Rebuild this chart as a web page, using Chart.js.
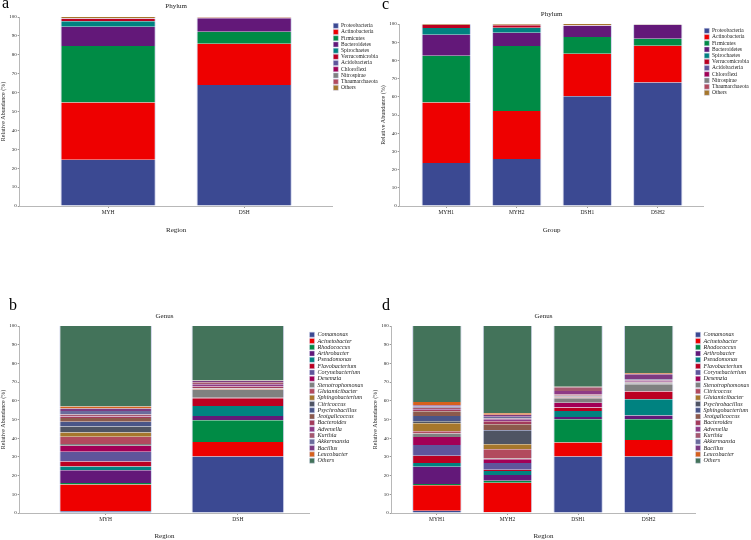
<!DOCTYPE html>
<html>
<head>
<meta charset="utf-8">
<script src="https://cdn.jsdelivr.net/npm/chart.js@4"></script>
<style>
    body { margin: 0; background: #fff; }
    #page { position: relative; width: 751px; height: 540px; overflow: hidden; background: #fff; }
    .panel { position: absolute; }
    .tag { position: absolute; font-family: 'Liberation Serif', serif; font-size: 16px; line-height: 1; color: #000; }
</style>
</head>
<body>
<div id="page">
    <canvas id="chart-a" class="panel" width="388" height="240" style="left:0;top:0"></canvas>
    <canvas id="chart-c" class="panel" width="387" height="240" style="left:372px;top:0"></canvas>
    <canvas id="chart-b" class="panel" width="373" height="240" style="left:0;top:300px"></canvas>
    <canvas id="chart-d" class="panel" width="387" height="240" style="left:372px;top:300px"></canvas>
    <div class="tag" style="left:2px;top:-5px">a</div>
    <div class="tag" style="left:382px;top:-4px">c</div>
    <div class="tag" style="left:9px;top:297px">b</div>
    <div class="tag" style="left:382px;top:297px">d</div>
</div>
<script>
// Relative abundance (%) of phyla and genera

const regionLabels = ['MYH', 'DSH'];
const groupLabels = ['MYH1', 'MYH2', 'DSH1', 'DSH2'];

const phylumNames = ['Proteobacteria', 'Actinobacteria', 'Firmicutes', 'Bacteroidetes', 'Spirochaetes',
    'Verrucomicrobia', 'Acidobacteria', 'Chloroflexi', 'Nitrospirae', 'Thaumarchaeota', 'Others'];

// one array per bar, in phylumNames order
const phylumMYH = [24.5, 30.3, 29.8, 10.3, 2.8, 1.4, 0.1, 0.1, 0.1, 0.1, 0.5];
const phylumDSH = [64.0, 21.8, 6.4, 7.1, 0.1, 0.2, 0.05, 0.05, 0.05, 0.05, 0.2];
const phylumMYH1 = [23.6, 33.2, 25.8, 11.5, 3.7, 1.6, 0.1, 0.05, 0.05, 0.05, 0.35];
const phylumMYH2 = [25.8, 26.4, 35.7, 7.3, 2.8, 1.3, 0.1, 0.05, 0.05, 0.05, 0.45];
const phylumDSH1 = [60.3, 23.4, 9.2, 6.1, 0.1, 0.1, 0.05, 0.05, 0.05, 0.05, 0.6];
const phylumDSH2 = [67.9, 20.2, 3.8, 7.6, 0.05, 0.05, 0.05, 0.05, 0.05, 0.05, 0.2];

const genusNamesRegion = ['Comamonas', 'Acinetobacter', 'Rhodococcus', 'Arthrobacter', 'Pseudomonas',
    'Flavobacterium', 'Corynebacterium', 'Desemzia', 'Stenotrophomonas', 'Glutamicibacter',
    'Sphingobacterium', 'Citricoccus', 'Psychrobacillus', 'Jeotgalicoccus', 'Bacteroides',
    'Advenella', 'Kurthia', 'Akkermansia', 'Bacillus', 'Leucobacter', 'Others'];
const genusMYH = [1.0, 14.2, 0.9, 6.8, 1.9, 2.7, 5.3, 3.2, 0.9, 3.9, 2.3, 3.1, 2.6, 2.0, 0.5, 0.3, 1.1, 1.8, 1.4, 1.1, 43.0];
const genusDSH = [30.2, 7.8, 11.6, 2.3, 5.3, 4.2, 0.1, 0.1, 4.2, 0.3, 0.4, 0.1, 0.1, 0.2, 0.8, 1.2, 1.0, 0.2, 0.6, 0.2, 29.1];

const genusNamesGroup = ['Comamonas', 'Acinetobacter', 'Rhodococcus', 'Arthrobacter', 'Pseudomonas',
    'Flavobacterium', 'Corynebacterium', 'Desemzia', 'Stenotrophomonas', 'Citricoccus',
    'Glutamicibacter', 'Psychrobacillus', 'Sphingobacterium', 'Jeotgalicoccus', 'Bacteroides',
    'Advenella', 'Kurthia', 'Akkermansia', 'Bacillus', 'Leucobacter', 'Others'];
const genusMYH1 = [1.2, 13.7, 0.6, 9.2, 2.0, 3.9, 5.7, 4.4, 1.8, 1.2, 4.3, 1.0, 2.9, 2.5, 0.7, 0.4, 0.8, 0.6, 0.7, 1.7, 40.7];
const genusMYH2 = [0.4, 15.8, 1.0, 3.1, 2.1, 0.7, 3.7, 2.0, 0.3, 5.0, 2.7, 7.1, 0.3, 3.2, 1.6, 1.2, 0.4, 0.9, 1.1, 0.7, 46.7];
const genusDSH1 = [30.2, 7.5, 12.5, 1.2, 3.2, 1.7, 0.1, 2.6, 2.4, 0.3, 0.2, 0.2, 0.4, 0.3, 0.6, 1.8, 2.0, 0.1, 0.1, 0.1, 32.5];
const genusDSH2 = [30.2, 8.9, 11.0, 2.1, 8.6, 4.2, 0.1, 0.1, 3.6, 0.2, 0.1, 0.2, 0.4, 0.2, 0.3, 0.6, 0.5, 0.3, 2.6, 0.5, 25.3];

// colour by stacking position (same in every panel)
const PALETTE = ['#3B4992', '#EE0000', '#008B45', '#631879', '#008280', '#BB0021', '#5F559B',
    '#A20056', '#808180', '#B24A5E', '#A6772C', '#4F5463', '#4A5588', '#8C5A4C', '#A33B5B',
    '#8E3A86', '#A5586F', '#6B6B9C', '#7D3A82', '#D6611E', '#43735A'];

const SERIF = "'Liberation Serif', 'Times New Roman', serif";
Chart.defaults.font.family = SERIF;
Chart.defaults.color = '#222';

function stackedBars(id, labels, columns, names, cfg) {
    // bars sit at x = 0..n-1 on a linear axis, so the outer gaps can be wider than half a slot
    const datasets = names.map((name, i) => ({
        label: name,
        data: columns.map((col, j) => ({ x: j, y: col[i] })),
        backgroundColor: PALETTE[i],
        borderColor: 'rgba(200, 204, 232, 0.9)',
        borderWidth: { left: 1, right: 1, top: 0, bottom: 0 },
        borderSkipped: false,
        barPercentage: 0.7,
        categoryPercentage: 1,
    }));

    return new Chart(document.getElementById(id), {
        type: 'bar',
        data: { datasets },
        options: {
            responsive: false,
            animation: false,
            layout: { padding: cfg.padding },
            plugins: {
                title: {
                    display: true,
                    text: cfg.title,
                    fullSize: false,
                    font: { size: 7, weight: 'normal' },
                    color: '#222',
                    padding: cfg.titlePad,
                },
                legend: {
                    position: 'right',
                    align: 'start',
                    fullSize: false,
                    title: { display: true, text: '', font: { size: 2 }, padding: { top: 0, bottom: cfg.legendShift } },
                    labels: {
                        boxWidth: 5,
                        boxHeight: 5,
                        padding: cfg.legendPad,
                        color: '#222',
                        font: { size: cfg.legendSize, style: cfg.italic ? 'italic' : 'normal' },
                    },
                },
                tooltip: { enabled: false },
            },
            scales: {
                x: {
                    type: 'linear',
                    offset: false,
                    stacked: true,
                    min: cfg.xRange[0],
                    max: cfg.xRange[1],
                    grid: { display: true, offset: false, drawOnChartArea: false, tickLength: 2, color: '#999' },
                    border: { color: '#b8b8b8' },
                    ticks: {
                        stepSize: 1,
                        includeBounds: false,
                        autoSkip: false,
                        maxRotation: 0,
                        font: { size: 5.5 },
                        padding: 1,
                        color: '#222',
                        callback: v => (Number.isInteger(v) ? labels[v] : ''),
                    },
                    title: {
                        display: true,
                        text: cfg.xTitle,
                        font: { size: 7 },
                        color: '#222',
                        padding: cfg.xTitlePad,
                    },
                },
                y: {
                    stacked: true,
                    min: 0,
                    max: 100,
                    grid: { display: true, drawOnChartArea: false, tickLength: 2, color: '#999' },
                    border: { color: '#b8b8b8' },
                    ticks: { stepSize: 10, font: { size: 5 }, padding: 1, color: '#222' },
                    title: {
                        display: true,
                        text: 'Relative Abundance (%)',
                        font: { size: 6 },
                        color: '#222',
                        padding: { top: 0, bottom: 1 },
                    },
                },
            },
        },
    });
}

stackedBars('chart-a', regionLabels, [phylumMYH, phylumDSH], phylumNames, {
    title: 'Phylum', xTitle: 'Region', italic: false, xRange: [-0.65, 1.65],
    legendSize: 5.5, legendPad: 0.7, legendShift: 3,
    padding: { left: 0, right: 0, top: 0, bottom: 4 },
    titlePad: { top: 2, bottom: 6.6 }, xTitlePad: { top: 9, bottom: 2 },
});

stackedBars('chart-c', groupLabels, [phylumMYH1, phylumMYH2, phylumDSH1, phylumDSH2], phylumNames, {
    title: 'Phylum', xTitle: 'Group', italic: false, xRange: [-0.66, 3.65],
    legendSize: 5.5, legendPad: 0.7, legendShift: 1,
    padding: { left: 8, right: 0, top: 0, bottom: 4 },
    titlePad: { top: 9.8, bottom: 5.8 }, xTitlePad: { top: 9, bottom: 2 },
});

stackedBars('chart-b', regionLabels, [genusMYH, genusDSH], genusNamesRegion, {
    title: 'Genus', xTitle: 'Region', italic: true, xRange: [-0.65, 1.54],
    legendSize: 6.1, legendPad: 0.2, legendShift: 3,
    padding: { left: 0, right: 0, top: 0, bottom: 0 },
    titlePad: { top: 11.8, bottom: 5.8 }, xTitlePad: { top: 8, bottom: 0 },
});

stackedBars('chart-d', groupLabels, [genusMYH1, genusMYH2, genusDSH1, genusDSH2], genusNamesGroup, {
    title: 'Genus', xTitle: 'Region', italic: true, xRange: [-0.64, 3.66],
    legendSize: 6.1, legendPad: 0.2, legendShift: 3,
    padding: { left: 0, right: 0, top: 0, bottom: 0 },
    titlePad: { top: 11.8, bottom: 5.8 }, xTitlePad: { top: 8, bottom: 0 },
});
</script>
</body>
</html>
